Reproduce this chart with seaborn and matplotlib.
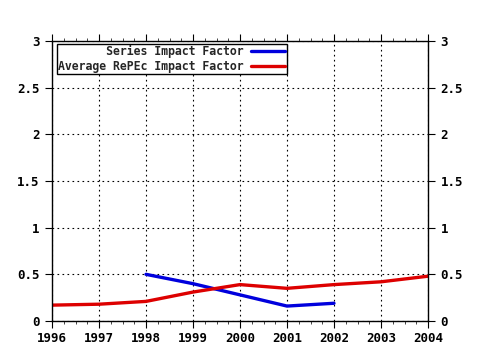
import matplotlib
matplotlib.use("Agg")
import matplotlib.pyplot as plt
import seaborn as sns
import pandas as pd
from matplotlib.ticker import MultipleLocator

years_series = [1998, 1999, 2000, 2001, 2002]
series_if = [0.50, 0.40, 0.28, 0.16, 0.19]
years_avg = [1996, 1997, 1998, 1999, 2000, 2001, 2002, 2003, 2004]
avg_if = [0.17, 0.18, 0.21, 0.31, 0.39, 0.35, 0.39, 0.42, 0.48]
labels = ["       Series Impact Factor", "Average RePEc Impact Factor"]
colors = ["#0000dd", "#dd0000"]

sns.set_style("ticks")
plt.rcParams['font.family'] = ['DejaVu Sans Mono', 'DejaVu Sans']
plt.rcParams['font.weight'] = 'bold'

fig = plt.figure(figsize=(4.8, 3.5), dpi=100)
ax = fig.add_axes([52/480, 1-321/350, 376/480, 280/350])

df1 = pd.DataFrame({"Year": years_series, "Value": series_if})
df2 = pd.DataFrame({"Year": years_avg, "Value": avg_if})
sns.lineplot(data=df1, x="Year", y="Value", ax=ax, color=colors[0], linewidth=2.4, label=labels[0])
sns.lineplot(data=df2, x="Year", y="Value", ax=ax, color=colors[1], linewidth=2.4, label=labels[1])

ax.set_xlim(1996, 2004)
ax.set_ylim(0, 3)
ax.set_xlabel("")
ax.set_ylabel("")
ax.xaxis.set_major_locator(MultipleLocator(1))
ax.xaxis.set_minor_locator(MultipleLocator(0.25))
ax.yaxis.set_major_locator(MultipleLocator(0.5))
ax.yaxis.set_major_formatter(matplotlib.ticker.FuncFormatter(lambda v, p: f"{v:g}"))
ax.xaxis.set_major_formatter(matplotlib.ticker.FuncFormatter(lambda v, p: f"{int(v)}"))
ax.grid(True, which='major', color='black', linestyle=(0, (1.5, 3)), linewidth=0.8)
for s in ax.spines.values():
    s.set_visible(True)
    s.set_color('black')
    s.set_linewidth(1)
ax.tick_params(axis='x', which='major', direction='out', length=5, top=True, bottom=True, labelsize=9, colors='black', pad=3)
ax.tick_params(axis='x', which='minor', direction='out', length=2.5, top=True, bottom=True)
ax.tick_params(axis='y', which='major', direction='out', length=5, left=True, right=True, labelleft=True, labelright=True, labelsize=9, colors='black', pad=4)
for t in ax.get_xticklabels() + ax.get_yticklabels():
    t.set_fontweight('bold')

leg = ax.legend(loc='upper left', bbox_to_anchor=(0.013, 0.99), markerfirst=False,
                frameon=True, fancybox=False, handlelength=3.0, handletextpad=0.6,
                borderpad=0.12, labelspacing=0.12, borderaxespad=0,
                prop={'family': 'DejaVu Sans Mono', 'weight': 'bold', 'size': 8.3})
leg.get_frame().set_edgecolor('black')
leg.get_frame().set_linewidth(1)
leg.get_frame().set_alpha(1)

fig.savefig("out.png", dpi=100)
